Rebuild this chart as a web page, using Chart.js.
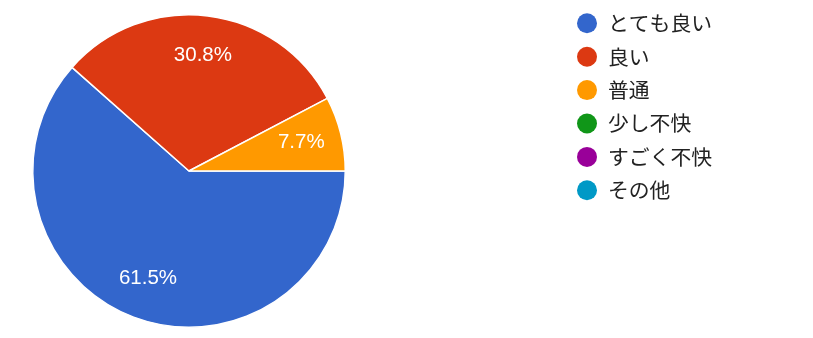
<!DOCTYPE html>
<html>
<head>
<meta charset="utf-8">
<script src="https://cdn.jsdelivr.net/npm/chart.js@4"></script>
<style>
  html, body { margin: 0; padding: 0; background: #fff; }
  #wrap { width: 813px; height: 338px; }
</style>
</head>
<body>
<div id="wrap"><canvas id="pieChart"></canvas></div>
<script>
// answers and counts
const labels = ['とても良い', '良い', '普通', '少し不快', 'すごく不快', 'その他'];
const counts = [8, 4, 1, 0, 0, 0];
const colors = ['#3366cc', '#dc3912', '#ff9900', '#109618', '#990099', '#0099c6'];

// percent labels inside slices
const sliceLabels = {
    id: 'sliceLabels',
    afterDatasetsDraw(chart) {
        const ctx = chart.ctx;
        const total = counts.reduce((a, b) => a + b, 0);
        ctx.save();
        ctx.font = '20.5px "Liberation Sans", Arial, sans-serif';
        ctx.fillStyle = '#ffffff';
        ctx.textAlign = 'center';
        ctx.textBaseline = 'middle';
        chart.getDatasetMeta(0).data.forEach((arc, i) => {
            if (!counts[i]) return;
            const mid = (arc.startAngle + arc.endAngle) / 2;
            const r = arc.outerRadius * 0.74;
            const pct = (counts[i] / total * 100).toFixed(1) + '%';
            ctx.fillText(pct, arc.x + Math.cos(mid) * r, arc.y + Math.sin(mid) * r - 1);
        });
        ctx.restore();
    }
};

// legend on the right, like the forms summary
const sideLegend = {
    id: 'sideLegend',
    afterDraw(chart) {
        const ctx = chart.ctx;
        ctx.save();
        ctx.font = '20.8px "Noto Sans CJK JP", sans-serif';
        ctx.textBaseline = 'middle';
        labels.forEach((lab, i) => {
            const y = 23.3 + i * 33.4;
            ctx.fillStyle = colors[i];
            ctx.beginPath();
            ctx.arc(587, y, 10, 0, Math.PI * 2);
            ctx.fill();
            ctx.fillStyle = '#222222';
            ctx.fillText(lab, 608, y);
        });
        ctx.restore();
    }
};

const ctx = document.getElementById('pieChart').getContext('2d');
new Chart(ctx, {
    type: 'pie',
    data: {
        labels: labels,
        datasets: [{
            data: counts,
            backgroundColor: colors,
            borderColor: '#ffffff',
            borderWidth: 1.5
        }]
    },
    options: {
        responsive: true,
        maintainAspectRatio: false,
        animation: false,
        rotation: 90,
        layout: { padding: { left: 32, right: 467, top: 14, bottom: 10 } },
        plugins: {
            legend: { display: false },
            tooltip: { enabled: false }
        }
    },
    plugins: [sliceLabels, sideLegend]
});
</script>
</body>
</html>
